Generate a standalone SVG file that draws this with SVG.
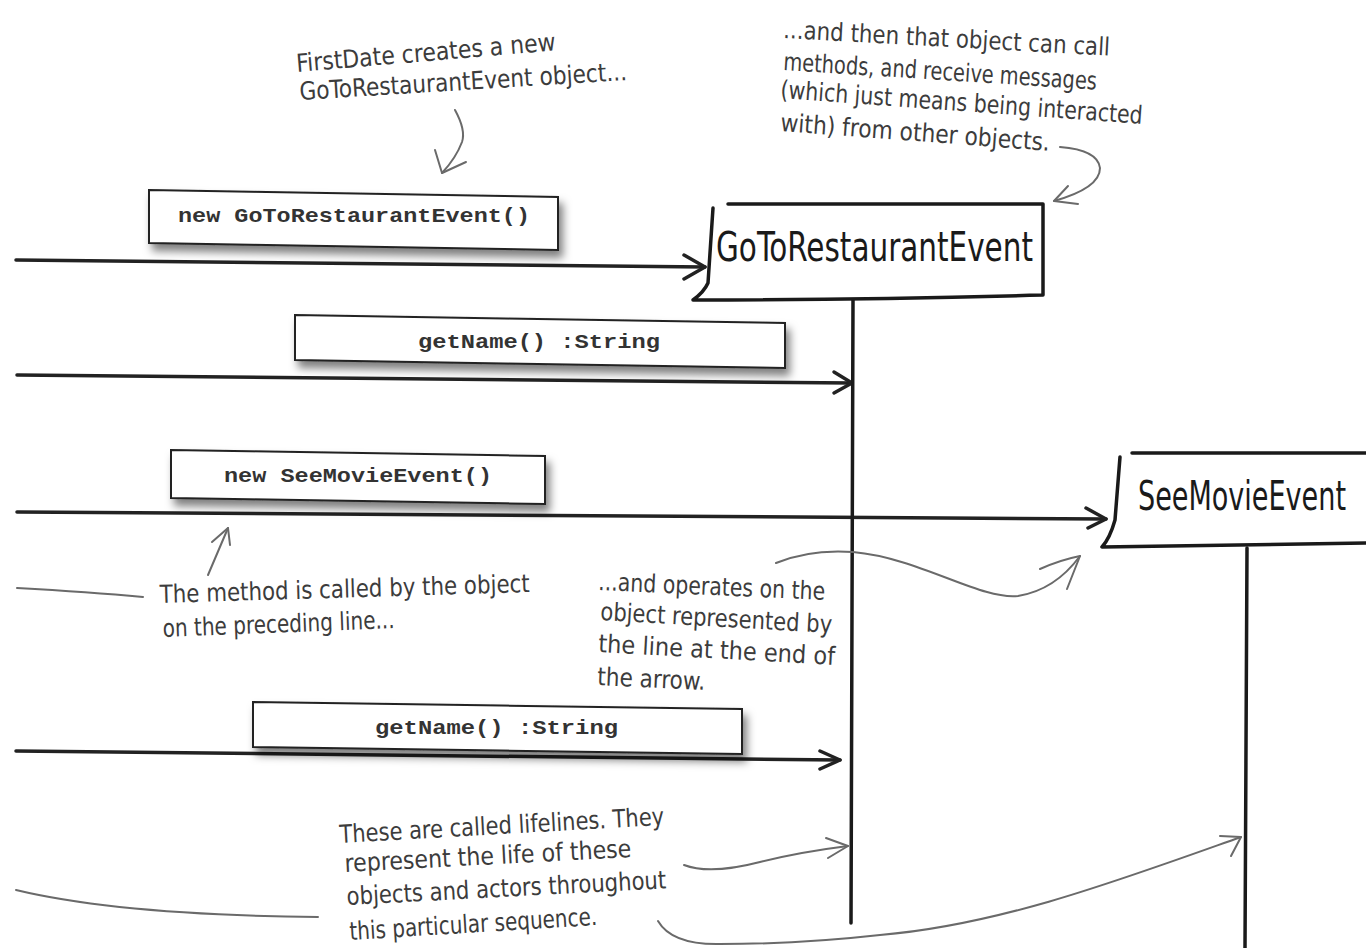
<svg xmlns="http://www.w3.org/2000/svg" width="1366" height="948" viewBox="0 0 1366 948">
<defs>
<filter id="sh" x="-10%" y="-30%" width="130%" height="190%">
<feDropShadow dx="4" dy="7" stdDeviation="4" flood-color="#000" flood-opacity="0.5"/>
</filter>
<style>
.hand{font-family:"Liberation Sans Narrow","DejaVu Sans Condensed","Open Sans",sans-serif;fill:#3c3c3c;font-size:25px;font-stretch:condensed}
.head{font-family:"Liberation Sans Narrow","DejaVu Sans Condensed","Open Sans",sans-serif;fill:#1a1a1a;font-size:40px;font-stretch:condensed}
.mono{font-family:"Liberation Mono","DejaVu Sans Mono",monospace;font-weight:bold;fill:#333;font-size:21px}
.box{fill:#fff;stroke:#222;stroke-width:2}
.msg{fill:none;stroke:#222;stroke-width:3.5;stroke-linecap:round;stroke-linejoin:round}
.life{fill:none;stroke:#1a1a1a;stroke-width:3.5;stroke-linecap:round}
.obj{fill:#fff;stroke:#1a1a1a;stroke-width:3.5;stroke-linejoin:round;stroke-linecap:round}
.note{fill:none;stroke:#6a6a6a;stroke-width:2;stroke-linecap:round;stroke-linejoin:round}
</style>
</defs>
<rect width="1366" height="948" fill="#fff"/>

<g id="connectors">
<path class="msg" d="M16,260 L705,267"/>
<path class="msg" d="M684,255 L705,267 L684,279"/>
<path class="msg" d="M17,375 L852,383"/>
<path class="msg" d="M834,372 L852,383 L834,393"/>
<path class="msg" d="M17,512 L1106,519"/>
<path class="msg" d="M1086,508 L1106,519 L1088,528"/>
<path class="msg" d="M16,751 L840,760"/>
<path class="msg" d="M820,751 L840,760 L820,769"/>
</g>

<g id="lifelines">
<path class="life" d="M853,300 L851,923"/>
<path class="life" d="M1247,548 L1245,948"/>
</g>

<g id="node-gotorestaurant">
<path class="obj" d="M728,204 L1043,204 L1043,295 Q860,300 693,300 Q704,292 708,283 L713,208"/>
<text class="head" x="716" y="261" textLength="317" lengthAdjust="spacingAndGlyphs">GoToRestaurantEvent</text>
</g>

<g id="node-seemovie">
<path d="M1120,458 L1366,455 L1366,541 L1105,545 Z" fill="#fff" stroke="none"/>
<path class="obj" d="M1132,453 L1366,453"/>
<path class="obj" d="M1120,457 L1115,520 Q1110,538 1102,547 Q1240,545 1366,543" fill="none"/>
<text class="head" x="1138" y="510" font-size="37" textLength="208" lengthAdjust="spacingAndGlyphs">SeeMovieEvent</text>
</g>

<g id="msg-new-gotorestaurant">
<polygon class="box" filter="url(#sh)" points="149,190 558,197 558,250 149,243"/>
<text class="mono" x="178" y="222" textLength="352" lengthAdjust="spacingAndGlyphs">new GoToRestaurantEvent()</text>
</g>

<g id="msg-getname-1">
<polygon class="box" filter="url(#sh)" points="295,315 785,323 785,368 295,360"/>
<text class="mono" x="418" y="348" textLength="242" lengthAdjust="spacingAndGlyphs">getName() :String</text>
</g>

<g id="msg-new-seemovie">
<polygon class="box" filter="url(#sh)" points="171,450 545,456 545,504 171,498"/>
<text class="mono" x="224" y="482" textLength="268" lengthAdjust="spacingAndGlyphs">new SeeMovieEvent()</text>
</g>

<g id="msg-getname-2">
<polygon class="box" filter="url(#sh)" points="253,702 742,709 742,754 253,747"/>
<text class="mono" x="375" y="734" textLength="243" lengthAdjust="spacingAndGlyphs">getName() :String</text>
</g>

<g id="note-firstdate">
<text class="hand" x="297" y="72" transform="rotate(-4.8 297 72)" textLength="260" lengthAdjust="spacingAndGlyphs">FirstDate creates a new</text>
<text class="hand" x="300" y="100" transform="rotate(-3.5 300 100)" textLength="328" lengthAdjust="spacingAndGlyphs">GoToRestaurantEvent object...</text>
<path class="note" d="M455,110 Q466,130 462,142 Q456,158 442,173"/>
<path class="note" d="M435,150 L442,173 L466,162"/>
</g>

<g id="note-then">
<text class="hand" x="783" y="38" transform="rotate(3.1 783 38)" textLength="327" lengthAdjust="spacingAndGlyphs">...and then that object can call</text>
<text class="hand" x="783" y="70" transform="rotate(3.6 783 70)" textLength="314" lengthAdjust="spacingAndGlyphs">methods, and receive messages</text>
<text class="hand" x="780" y="98" transform="rotate(4.1 780 98)" textLength="363" lengthAdjust="spacingAndGlyphs">(which just means being interacted</text>
<text class="hand" x="780" y="131" transform="rotate(4.2 780 131)" textLength="270" lengthAdjust="spacingAndGlyphs">with) from other objects.</text>
<path class="note" d="M1060,147 Q1098,150 1100,168 Q1100,188 1054,201"/>
<path class="note" d="M1068,186 L1054,201 L1078,204"/>
</g>

<g id="note-called-by">
<text class="hand" x="160" y="603" transform="rotate(-1.7 160 603)" textLength="370" lengthAdjust="spacingAndGlyphs">The method is called by the object</text>
<text class="hand" x="163" y="637" transform="rotate(-2.2 163 637)" textLength="232" lengthAdjust="spacingAndGlyphs">on the preceding line...</text>
<path class="note" d="M17,588 Q90,592 143,597"/>
<path class="note" d="M208,575 L228,528"/>
<path class="note" d="M212,542 L228,528 L230,545"/>
</g>

<g id="note-operates">
<text class="hand" x="598" y="590" transform="rotate(2.5 598 590)" textLength="227" lengthAdjust="spacingAndGlyphs">...and operates on the</text>
<text class="hand" x="600" y="620" transform="rotate(3.2 600 620)" textLength="232" lengthAdjust="spacingAndGlyphs">object represented by</text>
<text class="hand" x="598" y="652" transform="rotate(3.1 598 652)" textLength="237" lengthAdjust="spacingAndGlyphs">the line at the end of</text>
<text class="hand" x="597" y="685" transform="rotate(2.6 597 685)" textLength="108" lengthAdjust="spacingAndGlyphs">the arrow.</text>
<path class="note" d="M776,563 Q810,549 853,552 C920,558 980,600 1018,596 Q1055,590 1080,556"/>
<path class="note" d="M1040,569 Q1060,560 1080,556 L1067,589"/>
</g>

<g id="note-lifelines">
<text class="hand" x="340" y="843" transform="rotate(-3.2 340 843)" textLength="325" lengthAdjust="spacingAndGlyphs">These are called lifelines. They</text>
<text class="hand" x="345" y="872" transform="rotate(-3 345 872)" textLength="287" lengthAdjust="spacingAndGlyphs">represent the life of these</text>
<text class="hand" x="347" y="905" transform="rotate(-3 347 905)" textLength="320" lengthAdjust="spacingAndGlyphs">objects and actors throughout</text>
<text class="hand" x="350" y="940" transform="rotate(-3.5 350 940)" textLength="248" lengthAdjust="spacingAndGlyphs">this particular sequence.</text>
<path class="note" d="M684,865 Q710,875 760,862 Q800,852 848,846"/>
<path class="note" d="M826,838 L848,846 L828,858"/>
<path class="note" d="M658,921 Q672,945 720,944 Q800,944 880,935 C1000,925 1120,880 1241,837"/>
<path class="note" d="M1220,836 L1241,837 L1231,856"/>
<path class="note" d="M16,890 Q120,915 318,917"/>
</g>
</svg>
